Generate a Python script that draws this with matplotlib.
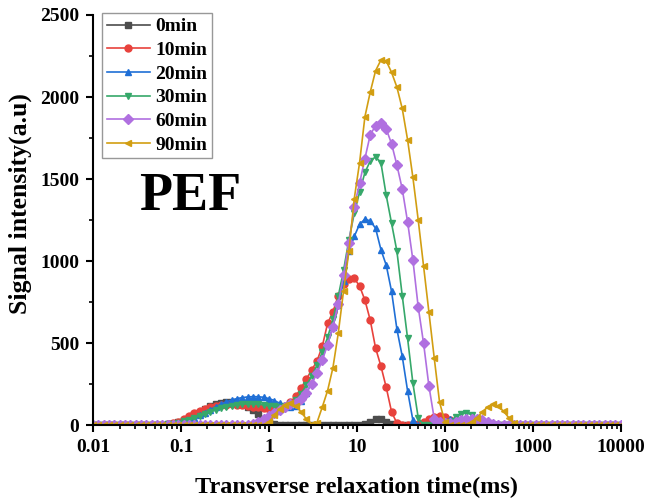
import matplotlib
matplotlib.use("Agg")
import matplotlib.pyplot as plt
import matplotlib.ticker as mticker
import numpy as np

# T2 inversion grid: 100 log-spaced relaxation times, 0.01 - 10000 ms
t2 = np.logspace(-2, 4, 100)

labels = ["0min", "10min", "20min", "30min", "60min", "90min"]
x_ticks = [0.01, 0.1, 1, 10, 100, 1000, 10000]
x_ticklabels = ["0.01", "0.1", "1", "10", "100", "1000", "10000"]

amp_0 = [
    0, 0, 0, 0, 0, 0, 0, 0, 0, 0, 0, 0, 0, 0, 5, 10, 20, 32, 48, 65,
    83, 100, 115, 127, 136, 141, 142, 138, 128, 112, 90, 65, 40, 20, 6, 0, 0, 0, 0, 0,
    0, 0, 0, 0, 0, 0, 0, 0, 0, 0, 0, 8, 22, 35, 35, 20, 5, 0, 0, 0,
    0, 0, 0, 0, 0, 0, 0, 0, 0, 0, 0, 0, 0, 0, 0, 0, 0, 0, 0, 0,
    0, 0, 0, 0, 0, 0, 0, 0, 0, 0, 0, 0, 0, 0, 0, 0, 0, 0, 0, 0,
]
amp_10 = [
    0, 0, 0, 0, 0, 0, 0, 0, 0, 0, 0, 0, 0, 0, 5, 12, 22, 38, 55, 72,
    88, 100, 110, 117, 122, 125, 126, 125, 122, 118, 113, 108, 103, 100, 98, 102, 115, 140, 175, 225,
    280, 335, 390, 480, 620, 690, 790, 860, 893, 895, 848, 762, 640, 470, 360, 230, 81, 12, 0, 0,
    0, 5, 18, 38, 52, 56, 48, 30, 12, 2, 0, 0, 0, 0, 0, 0, 0, 0, 0, 0,
    0, 0, 0, 0, 0, 0, 0, 0, 0, 0, 0, 0, 0, 0, 0, 0, 0, 0, 0, 0,
]
amp_20 = [
    0, 0, 0, 0, 0, 0, 0, 0, 0, 0, 0, 0, 0, 0, 4, 8, 14, 22, 32, 45,
    60, 77, 95, 112, 128, 142, 153, 162, 168, 172, 174, 173, 170, 162, 150, 134, 120, 112, 118, 145,
    195, 255, 325, 405, 495, 600, 730, 880, 1060, 1150, 1225, 1255, 1245, 1200, 1070, 975, 815, 585, 420, 210,
    30, 0, 0, 0, 5, 15, 28, 38, 40, 32, 18, 6, 0, 0, 0, 0, 0, 0, 0, 0,
    0, 0, 0, 0, 0, 0, 0, 0, 0, 0, 0, 0, 0, 0, 0, 0, 0, 0, 0, 0,
]
amp_30 = [
    0, 0, 0, 0, 0, 0, 0, 0, 0, 0, 0, 0, 0, 0, 4, 9, 16, 24, 33, 44,
    56, 68, 80, 92, 102, 111, 118, 124, 128, 130, 130, 128, 124, 119, 114, 111, 114, 128, 152, 192,
    242, 298, 365, 445, 535, 645, 785, 945, 1130, 1290, 1420, 1540, 1610, 1635, 1600, 1400, 1230, 1060, 790, 530,
    256, 45, 0, 0, 0, 0, 5, 22, 50, 70, 76, 64, 38, 14, 2, 0, 0, 0, 0, 0,
    0, 0, 0, 0, 0, 0, 0, 0, 0, 0, 0, 0, 0, 0, 0, 0, 0, 0, 0, 0,
]
amp_60 = [
    0, 0, 0, 0, 0, 0, 0, 0, 0, 0, 0, 0, 0, 0, 0, 0, 0, 0, 0, 0,
    0, 0, 0, 0, 0, 0, 0, 0, 0, 3, 10, 22, 38, 55, 75, 95, 112, 126, 138, 158,
    198, 250, 315, 395, 490, 600, 740, 915, 1110, 1330, 1475, 1625, 1770, 1825, 1840, 1805, 1715, 1585, 1440, 1240,
    1006, 720, 500, 240, 40, 18, 12, 16, 22, 30, 36, 40, 38, 30, 20, 10, 3, 0, 0, 0,
    0, 0, 0, 0, 0, 0, 0, 0, 0, 0, 0, 0, 0, 0, 0, 0, 0, 0, 0, 0,
]
amp_90 = [
    0, 0, 0, 0, 0, 0, 0, 0, 0, 0, 0, 0, 0, 0, 0, 0, 0, 0, 0, 0,
    0, 0, 0, 0, 0, 0, 0, 0, 0, 0, 0, 0, 3, 20, 60, 100, 125, 132, 118, 82,
    38, 8, 15, 110, 210, 350, 560, 820, 1060, 1380, 1600, 1880, 2030, 2160, 2225, 2220, 2150, 2060, 1930, 1740,
    1510, 1250, 970, 690, 410, 140, 20, 0, 0, 0, 0, 20, 45, 80, 110, 128, 115, 85, 45, 15,
    3, 0, 0, 0, 0, 0, 0, 0, 0, 0, 0, 0, 0, 0, 0, 0, 0, 0, 0, 0,
]

series = [amp_0, amp_10, amp_20, amp_30, amp_60, amp_90]
colors = ["#4d4d4d", "#e8423c", "#1f6fd6", "#36a86a", "#b070e0", "#d29e12"]
markers = ["s", "o", "^", "v", "D", "<"]

plt.rcParams["font.family"] = "Liberation Serif"
plt.rcParams["font.weight"] = "bold"

fig = plt.figure(figsize=(6.46, 4.99), dpi=100)
ax = fig.add_axes([0.144, 0.148, 0.817, 0.822])

for y, c, m, lab in zip(series, colors, markers, labels):
    ax.plot(t2, y, color=c, marker=m, markersize=5, linewidth=1.2, label=lab)

ax.set_xscale("log")
ax.set_xlim(0.01, 10000)
ax.set_ylim(0, 2500)

ax.xaxis.set_major_locator(mticker.FixedLocator(x_ticks))
ax.xaxis.set_major_formatter(mticker.FixedFormatter(x_ticklabels))
minor = [m * d for d in x_ticks[:-1] for m in range(2, 10)]
ax.xaxis.set_minor_locator(mticker.FixedLocator(minor))
ax.xaxis.set_minor_formatter(mticker.NullFormatter())
ax.yaxis.set_major_locator(mticker.MultipleLocator(500))
ax.yaxis.set_minor_locator(mticker.MultipleLocator(250))

for s in ["top", "right"]:
    ax.spines[s].set_visible(False)
for s in ["left", "bottom"]:
    ax.spines[s].set_linewidth(1.5)

ax.tick_params(which="major", direction="out", length=5, width=1.5, labelsize=14, pad=5)
ax.tick_params(which="minor", direction="out", length=3, width=1.2)
for lbl in ax.get_xticklabels() + ax.get_yticklabels():
    lbl.set_fontweight("bold")

ax.set_xlabel("Transverse relaxation time(ms)", fontsize=17.5, fontweight="bold", labelpad=15)
ax.set_ylabel("Signal intensity(a.u)", fontsize=18.5, fontweight="bold")
ax.yaxis.set_label_coords(-0.116, 0.54)

ax.text(0.184, 0.555, "PEF", transform=ax.transAxes, fontsize=39,
        fontweight="bold", ha="center", va="center")

leg = ax.legend(loc="upper left", bbox_to_anchor=(0.017, 1.005), borderaxespad=0,
                fancybox=False, frameon=True, edgecolor="#7f7f7f",
                prop={"size": 14, "weight": "bold"}, handlelength=2.2,
                labelspacing=0.31, borderpad=0.25, handletextpad=0.3)
leg.get_frame().set_linewidth(1.0)

fig.savefig("out.png", dpi=100)
